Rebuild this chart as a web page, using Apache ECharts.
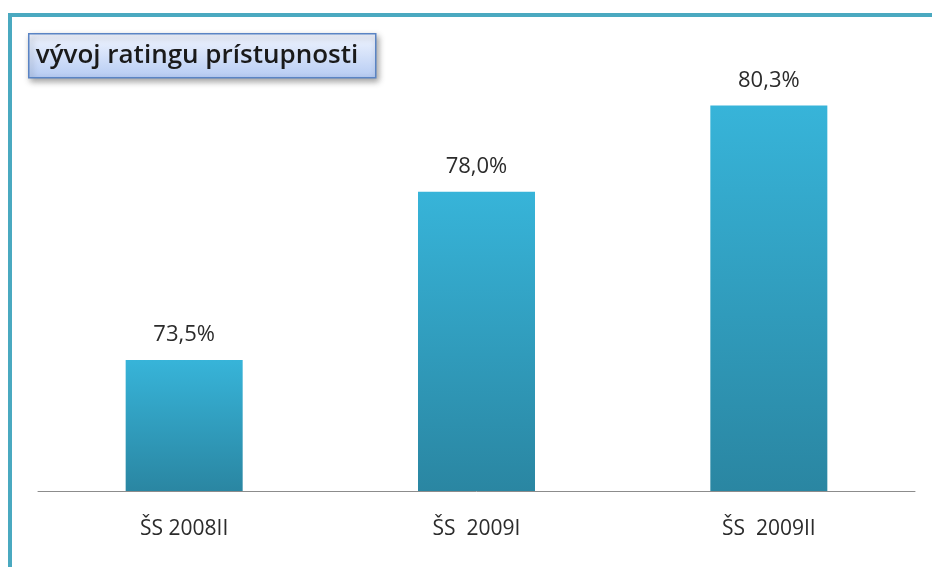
<!DOCTYPE html>
<html>
<head>
<meta charset="utf-8">
<script src="https://cdn.jsdelivr.net/npm/echarts@6/dist/echarts.min.js"></script>
<style>
html, body { margin: 0; padding: 0; background: #fff; }
#main { width: 932px; height: 567px; }
</style>
</head>
<body>
<div id="main"></div>
<script>
var titleText = 'vývoj ratingu prístupnosti'
var categories = ['ŠS 2008II', 'ŠS  2009I', 'ŠS  2009II']
var values = [73.5, 78.0, 80.3]

var chart = echarts.init(document.getElementById('main'))

var option = {
  animation: false,
  backgroundColor: '#ffffff',
  grid: { left: 38, right: 17, top: 42, bottom: 76 },
  xAxis: {
    type: 'category',
    data: categories,
    axisLine: { lineStyle: { color: '#8c8c8c', width: 1 } },
    axisTick: { show: false },
    axisLabel: {
      color: '#2b2b2b',
      fontSize: 21,
      fontFamily: 'Open Sans',
      margin: 28
    }
  },
  yAxis: {
    type: 'value',
    min: 70,
    max: 82,
    show: false,
    splitLine: { show: false }
  },
  series: [{
    type: 'bar',
    data: values,
    barWidth: 117,
    itemStyle: {
      color: new echarts.graphic.LinearGradient(0, 0, 0, 1, [
        { offset: 0, color: '#37b4d9' },
        { offset: 1, color: '#2a86a2' }
      ])
    },
    label: {
      show: true,
      position: 'top',
      distance: 14,
      color: '#2b2b2b',
      fontSize: 22,
      fontFamily: 'Open Sans',
      formatter: function (p) {
        return p.value.toFixed(1).replace('.', ',') + '%'
      }
    }
  }],
  graphic: [
    // frame lines on top and left
    { type: 'rect', shape: { x: 8, y: 13, width: 924, height: 4 }, style: { fill: '#4aa9c0' }, z: 10 },
    { type: 'rect', shape: { x: 8, y: 13, width: 4, height: 554 }, style: { fill: '#4aa9c0' }, z: 10 },
    {
      type: 'group',
      left: 28,
      top: 33,
      children: [
        {
          type: 'rect',
          shape: { x: 0, y: 0, width: 347, height: 44 },
          style: {
            fill: new echarts.graphic.LinearGradient(0, 0, 0, 1, [
              { offset: 0, color: '#f2f6ff' },
              { offset: 1, color: '#b5cbf3' }
            ]),
            stroke: '#5a84c4',
            lineWidth: 1.5,
            shadowBlur: 6,
            shadowOffsetX: 2,
            shadowOffsetY: 3,
            shadowColor: 'rgba(0,0,0,0.35)'
          }
        },
        {
          type: 'text',
          x: 7,
          y: 9,
          style: {
            text: titleText,
            fill: '#1a1a1a',
            font: '600 26px "Open Sans"'
          }
        }
      ]
    }
  ]
}

chart.setOption(option)
</script>
</body>
</html>
